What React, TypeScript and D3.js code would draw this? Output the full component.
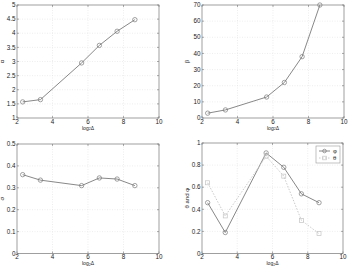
import React from 'react';
import * as d3 from 'd3';

// log2 of window sizes
const xVals = [2.32, 3.32, 5.64, 6.64, 7.64, 8.64];
const alphaVals = [1.57, 1.65, 2.95, 3.57, 4.07, 4.48];
const betaVals = [3, 5, 13, 22, 38, 70];
const sigmaVals = [0.36, 0.335, 0.31, 0.345, 0.34, 0.31];
const phiVals = [0.46, 0.19, 0.91, 0.78, 0.54, 0.46];
const thetaVals = [0.64, 0.34, 0.88, 0.7, 0.3, 0.18];

const xTicks = [2, 4, 6, 8, 10];
const alphaTicks = [1, 1.5, 2, 2.5, 3, 3.5, 4, 4.5, 5];
const betaTicks = [0, 10, 20, 30, 40, 50, 60, 70];
const sigmaTicks = [0, 0.1, 0.2, 0.3, 0.4, 0.5];
const ratioTicks = [0, 0.2, 0.4, 0.6, 0.8, 1];

type Series = { values: number[]; color: string; dash?: string; marker: 'circle' | 'square' };

interface PanelProps {
  box: [number, number, number, number]; // x0, y0, x1, y1
  yDomain: [number, number];
  yTicks: number[];
  yLabel: string;
  series: Series[];
  legend?: string[];
}

const FONT = 'Liberation Sans, Arial, sans-serif';

const Panel: React.FC<PanelProps> = ({ box, yDomain, yTicks, yLabel, series, legend }) => {
  const [x0, y0, x1, y1] = box;
  const x = d3.scaleLinear().domain([2, 10]).range([x0, x1]);
  const y = d3.scaleLinear().domain(yDomain).range([y1, y0]);
  const fmt = (v: number) => String(v);

  return (
    <g fontFamily={FONT} fontSize={6.3} fill="#222">
      <rect x={x0} y={y0} width={x1 - x0} height={y1 - y0} fill="#fff" stroke="none" />
      {/* grid */}
      {xTicks.slice(1, -1).map(t => (
        <line key={'gx' + t} x1={x(t)} x2={x(t)} y1={y0} y2={y1} stroke="#e2e2e2" strokeWidth={0.6} strokeDasharray="1,1.5" />
      ))}
      {yTicks.slice(1, -1).map(t => (
        <line key={'gy' + t} x1={x0} x2={x1} y1={y(t)} y2={y(t)} stroke="#e2e2e2" strokeWidth={0.6} strokeDasharray="1,1.5" />
      ))}
      <rect x={x0} y={y0} width={x1 - x0} height={y1 - y0} fill="none" stroke="#777" strokeWidth={0.7} />
      {/* ticks */}
      {xTicks.map(t => (
        <g key={'tx' + t}>
          <line x1={x(t)} x2={x(t)} y1={y1} y2={y1 - 2} stroke="#777" strokeWidth={0.6} />
          <line x1={x(t)} x2={x(t)} y1={y0} y2={y0 + 2} stroke="#777" strokeWidth={0.6} />
          <text x={x(t)} y={y1 + 5.5} textAnchor="middle">{fmt(t)}</text>
        </g>
      ))}
      {yTicks.map(t => (
        <g key={'ty' + t}>
          <line x1={x0} x2={x0 + 2} y1={y(t)} y2={y(t)} stroke="#777" strokeWidth={0.6} />
          <line x1={x1} x2={x1 - 2} y1={y(t)} y2={y(t)} stroke="#777" strokeWidth={0.6} />
          <text x={x0 - 1.5} y={y(t) + 2.2} textAnchor="end">{fmt(t)}</text>
        </g>
      ))}
      {/* labels */}
      <text x={(x0 + x1) / 2} y={y1 + 11.6} textAnchor="middle" fontSize={5}>
        log<tspan fontSize={3.6} dy={0.6}>2</tspan><tspan dy={-0.6}>Δ</tspan>
      </text>
      <text transform={`translate(${x0 - 13},${(y0 + y1) / 2}) rotate(-90)`} textAnchor="middle" fontSize={6}>{yLabel}</text>
      {/* series */}
      {series.map((s, i) => {
        const line = d3.line<number>().x((_, j) => x(xVals[j])).y(v => y(v));
        return (
          <g key={'s' + i}>
            <path d={line(s.values) || ''} fill="none" stroke={s.color} strokeWidth={0.9} strokeDasharray={s.dash} />
            {s.values.map((v, j) =>
              s.marker === 'circle' ? (
                <circle key={j} cx={x(xVals[j])} cy={y(v)} r={2.2} fill="none" stroke={s.color} strokeWidth={0.7} />
              ) : (
                <rect key={j} x={x(xVals[j]) - 2} y={y(v) - 2} width={4} height={4} fill="none" stroke={s.color} strokeWidth={0.7} />
              )
            )}
          </g>
        );
      })}
      {legend && (
        <g>
          <rect x={x1 - 27} y={y0 + 3} width={24} height={17} fill="#fff" stroke="#999" strokeWidth={0.6} />
          {legend.map((name, i) => {
            const ly = y0 + 8 + i * 7;
            const s = series[i];
            return (
              <g key={name}>
                <line x1={x1 - 24} x2={x1 - 13} y1={ly} y2={ly} stroke={s.color} strokeWidth={0.9} strokeDasharray={s.dash} />
                {s.marker === 'circle' ? (
                  <circle cx={x1 - 18.5} cy={ly} r={1.8} fill="none" stroke={s.color} strokeWidth={0.7} />
                ) : (
                  <rect x={x1 - 20.3} y={ly - 1.8} width={3.6} height={3.6} fill="none" stroke={s.color} strokeWidth={0.7} />
                )}
                <text x={x1 - 10} y={ly + 2} fontSize={6}>{name}</text>
              </g>
            );
          })}
        </g>
      )}
    </g>
  );
};

const App: React.FC = () => {
  const gray = '#7a7a7a';
  const light = '#c4c4c4';
  return (
    <svg width={348} height={266} style={{ position: 'absolute', left: 0, top: 0, background: '#fff' }}>
      <rect width={348} height={266} fill="#fff" />
      <Panel box={[17, 5, 159, 118]} yDomain={[1, 5]} yTicks={alphaTicks} yLabel="α"
        series={[{ values: alphaVals, color: gray, marker: 'circle' }]} />
      <Panel box={[202, 5, 344, 118]} yDomain={[0, 70]} yTicks={betaTicks} yLabel="β"
        series={[{ values: betaVals, color: gray, marker: 'circle' }]} />
      <Panel box={[17, 144, 159, 253.5]} yDomain={[0, 0.5]} yTicks={sigmaTicks} yLabel="σ"
        series={[{ values: sigmaVals, color: gray, marker: 'circle' }]} />
      <Panel box={[202, 143, 343, 253.5]} yDomain={[0, 1]} yTicks={ratioTicks} yLabel="θ and φ"
        series={[
          { values: phiVals, color: gray, marker: 'circle' },
          { values: thetaVals, color: light, dash: '1.5,1.5', marker: 'square' },
        ]}
        legend={['φ', 'θ']} />
    </svg>
  );
};

export default App;
